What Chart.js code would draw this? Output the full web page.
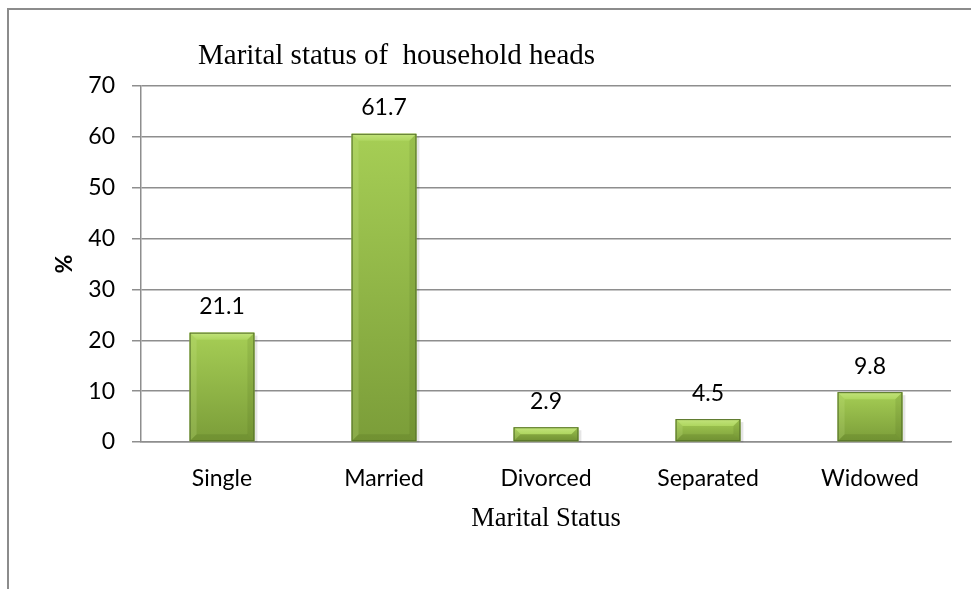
<!DOCTYPE html>
<html>
<head>
<meta charset="utf-8">
<script src="https://cdn.jsdelivr.net/npm/chart.js@4.4.1/dist/chart.umd.min.js"></script>
<style>
    html, body { margin: 0; padding: 0; background: #ffffff; overflow: hidden; }
    #frame {
        position: absolute; left: 7px; top: 8px;
        width: 1100px; height: 800px;
        border: 2px solid #8c8c8c;
    }
    #wrap { position: absolute; left: 0; top: 0; width: 971px; height: 589px; }
</style>
</head>
<body>
<div id="frame"></div>
<div id="wrap"><canvas id="marital_chart" width="971" height="589"></canvas></div>
<script>
// categories, bar heights (as drawn) and the value labels printed above them
const categorias = ["Single", "Married", "Divorced", "Separated", "Widowed"];
const valores    = [21.5, 60.6, 2.9, 4.5, 9.8];
const etiquetas  = ["21.1", "61.7", "2.9", "4.5", "9.8"];
const ticksY     = [0, 10, 20, 30, 40, 50, 60, 70];

const tituloGrafico = "Marital status of  household heads";
const tituloX = "Marital Status";
const tituloY = "%";

document.addEventListener("DOMContentLoaded", function () {

    if (typeof Chart === 'undefined') {
        console.error('Chart.js is not loaded');
        return;
    }

    const canvas = document.getElementById("marital_chart");
    const ctx = canvas.getContext("2d");

    const sansFont = "Lato, 'Open Sans', sans-serif";
    const serifFont = "'Liberation Serif', 'Times New Roman', serif";

    // shading of each bar: per-bar gradient face + bevel edges, on top of the library bar
    const bevelPlugin = {
        id: "bevel",
        afterDatasetsDraw(chart) {
            const c = chart.ctx;
            const meta = chart.getDatasetMeta(0);
            meta.data.forEach(function (bar) {
                const p = bar.getProps(["x", "y", "base", "width"], true);
                const l = p.x - p.width / 2, r = p.x + p.width / 2;
                const t = p.y, b = p.base;
                const bv = Math.min(7, (b - t) / 2);
                c.save();
                // soft shadow on the right
                c.fillStyle = "rgba(0,0,0,0.10)";
                c.fillRect(r, t + 3, 3, b - t - 2);
                // face
                let g = c.createLinearGradient(0, t, 0, b);
                g.addColorStop(0, "#a6ce55");
                g.addColorStop(1, "#7b9d39");
                c.fillStyle = g;
                c.fillRect(l, t, p.width, b - t);
                // top edge
                g = c.createLinearGradient(0, t, 0, t + bv);
                g.addColorStop(0, "#c3e47c");
                g.addColorStop(1, "#aed65f");
                c.fillStyle = g;
                c.beginPath();
                c.moveTo(l, t); c.lineTo(r, t); c.lineTo(r - bv, t + bv); c.lineTo(l + bv, t + bv);
                c.closePath(); c.fill();
                // left edge
                c.fillStyle = "rgba(210,240,150,0.18)";
                c.beginPath();
                c.moveTo(l, t); c.lineTo(l + bv, t + bv); c.lineTo(l + bv, b - bv); c.lineTo(l, b);
                c.closePath(); c.fill();
                // right edge
                c.fillStyle = "rgba(60,85,20,0.12)";
                c.beginPath();
                c.moveTo(r, t); c.lineTo(r - bv, t + bv); c.lineTo(r - bv, b - bv); c.lineTo(r, b);
                c.closePath(); c.fill();
                // bottom edge
                c.fillStyle = "rgba(60,85,20,0.16)";
                c.beginPath();
                c.moveTo(l, b); c.lineTo(l + bv, b - bv); c.lineTo(r - bv, b - bv); c.lineTo(r, b);
                c.closePath(); c.fill();
                // outline
                c.strokeStyle = "#56702a";
                c.lineWidth = 1;
                c.strokeRect(l + 0.5, t + 0.5, p.width - 1, b - t - 1);
                c.restore();
            });
        }
    };

    // value labels above bars + chart title
    const textosPlugin = {
        id: "textos",
        afterDraw(chart) {
            const c = chart.ctx;
            const meta = chart.getDatasetMeta(0);
            c.save();
            c.fillStyle = "#000000";
            c.font = "23px " + sansFont;
            c.textAlign = "center";
            c.textBaseline = "alphabetic";
            meta.data.forEach(function (bar, i) {
                c.fillText(etiquetas[i], bar.x, bar.y - 18.5);
            });
            c.font = "29px " + serifFont;
            c.textAlign = "left";
            c.fillText(tituloGrafico, 198, 64);
            c.restore();
        }
    };

    if (window.__maritalChart) {
        try { window.__maritalChart.destroy(); } catch (e) { /* swallow */ }
    }

    window.__maritalChart = new Chart(ctx, {
        type: "bar",
        data: {
            labels: categorias,
            datasets: [{
                data: valores,
                backgroundColor: "#9bbb59",
                borderWidth: 0,
                barPercentage: 0.4,
                categoryPercentage: 1.0
            }]
        },
        options: {
            responsive: false,
            animation: false,
            layout: { padding: { top: 86, right: 20, left: 0, bottom: 0 } },
            plugins: {
                legend: { display: false },
                tooltip: { enabled: false }
            },
            scales: {
                x: {
                    afterFit: function (scale) { scale.height = 147; },
                    grid: { display: false, drawTicks: false },
                    border: { display: true, color: "#8e8e8e", width: 1.5 },
                    ticks: {
                        color: "#000000",
                        padding: 23,
                        font: { family: sansFont, size: 23 }
                    },
                    title: {
                        display: true,
                        text: tituloX,
                        color: "#000000",
                        padding: { top: 0, bottom: 54 },
                        font: { family: serifFont, size: 26.5 }
                    }
                },
                y: {
                    min: 0,
                    max: 70,
                    afterFit: function (scale) { scale.width = 141; },
                    afterBuildTicks: function (scale) {
                        scale.ticks = ticksY.map(function (v) { return { value: v }; });
                    },
                    grid: {
                        color: "#8e8e8e",
                        lineWidth: 1.5,
                        drawTicks: true,
                        tickLength: 9
                    },
                    border: { display: true, color: "#8e8e8e", width: 1.5 },
                    ticks: {
                        color: "#000000",
                        padding: 17,
                        font: { family: sansFont, size: 23 }
                    },
                    title: {
                        display: true,
                        text: tituloY,
                        color: "#000000",
                        padding: { top: 51, bottom: 0 },
                        font: { family: sansFont, size: 23, weight: "bold" }
                    }
                }
            }
        },
        plugins: [bevelPlugin, textosPlugin]
    });
});
</script>
</body>
</html>
